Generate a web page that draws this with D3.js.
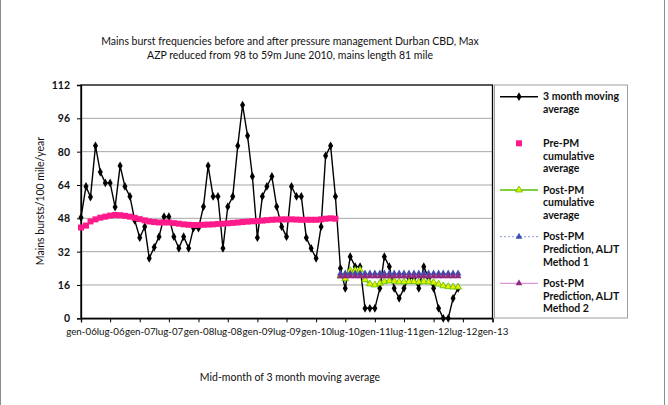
<!DOCTYPE html>
<html>
<head>
<meta charset="utf-8">
<script src="https://cdn.jsdelivr.net/npm/d3@7/dist/d3.min.js"></script>
<style>
  html, body { margin: 0; padding: 0; background: #fff; }
  svg { display: block; }
  text { font-family: Lato, "Open Sans", sans-serif; fill: #111; }
</style>
</head>
<body>
<svg id="chart" width="668" height="405"></svg>
<script>
// ---------- data ----------
const seriesStart = "2006-01";          // first month of the moving-average series
const postStart = "2010-06";            // first month after pressure management
const movingAvg = [48.4, 63.3, 58.2, 82.8, 70.2, 65.0, 65.0, 53.4, 73.2, 63.3, 58.5, 47.0,
  38.7, 44.0, 28.8, 34.1, 39.2, 48.8, 48.8, 39.2, 33.6, 39.2, 33.6, 43.3,
  43.3, 53.6, 73.2, 58.5, 58.5, 33.6, 53.6, 58.5, 82.8, 102.4, 87.6, 68.1,
  38.7, 58.5, 63.3, 68.1, 53.6, 44.0, 39.2, 63.3, 58.5, 58.5, 38.7, 33.6,
  28.8, 44.0, 78.0, 82.8, 58.5, 24.0, 14.4, 29.6, 24.8, 24.8, 4.8, 4.8,
  4.8, 14.4, 29.6, 24.8, 14.4, 9.6, 14.4, 19.2, 19.2, 14.4, 24.8, 19.2,
  14.4, 4.8, 0, 0, 9.6, 14.4];
const prePM = [43.6, 44.5, 46.5, 47.5, 48.3, 48.8, 49.3, 49.6, 49.5, 49.2, 48.8, 48.2,
  47.6, 47.0, 46.5, 46.2, 46.0, 46.0, 46.0, 45.7, 45.4, 45.1, 44.9, 44.8,
  44.8, 44.9, 45.0, 45.1, 45.3, 45.4, 45.6, 45.8, 46.0, 46.2, 46.4, 46.6,
  46.7, 46.9, 47.1, 47.3, 47.4, 47.5, 47.5, 47.5, 47.4, 47.3, 47.3, 47.3,
  47.3, 47.5, 47.8, 48.0, 47.8];
const postPM = [20.3, 19.0, 22.9, 23.0, 23.2, 18.5, 16.5, 16.0, 16.8, 17.6, 18.0, 17.8,
  17.5, 17.5, 17.6, 17.6, 17.4, 17.6, 17.5, 17.2, 16.4, 15.6, 15.2, 15.0, 15.0];
const method1 = [21.5, 21.5, 21.5, 21.5, 21.5, 21.5, 21.5, 21.5, 21.5, 21.5, 21.5, 21.5,
  21.5, 21.5, 21.5, 21.5, 21.5, 21.5, 21.5, 21.5, 21.5, 21.5, 21.5, 21.5, 21.5];
const method2 = [20.2, 20.2, 20.2, 20.2, 20.2, 20.2, 20.2, 20.2, 20.2, 20.2, 20.2, 20.2,
  20.2, 20.2, 20.2, 20.2, 20.2, 20.2, 20.2, 20.2, 20.2, 20.2, 20.2, 20.2, 20.2];
const yTicks = [0, 16, 32, 48, 64, 80, 96, 112];
const monthNames = ["gen", "feb", "mar", "apr", "mag", "giu", "lug", "ago", "set", "ott", "nov", "dic"];
const xTickRange = ["2006-01", "2013-01"];
const titleLines = ["Mains burst frequencies before and after pressure management Durban CBD, Max",
  "AZP reduced from 98 to 59m June 2010, mains length 81 mile"];
const yTitle = "Mains bursts/100 mile/year";
const xTitle = "Mid-month of 3 month moving average";
const legendItems = [
  {key: "ma", lines: ["3 month moving", "average"]},
  {key: "pre", lines: ["Pre-PM", "cumulative", "average"]},
  {key: "post", lines: ["Post-PM", "cumulative", "average"]},
  {key: "m1", lines: ["Post-PM", "Prediction, ALJT", "Method 1"]},
  {key: "m2", lines: ["Post-PM", "Prediction, ALJT", "Method 2"]}
];

// ---------- helpers ----------
const parseM = d3.timeParse("%Y-%m");
const toSeries = (start, vals) => vals.map((v, i) => ({date: d3.timeMonth.offset(parseM(start), i), v}));
const sMA = toSeries(seriesStart, movingAvg);
const sPre = toSeries(seriesStart, prePM);
const sPost = toSeries(postStart, postPM);
const sM1 = toSeries(postStart, method1);
const sM2 = toSeries(postStart, method2);

const svg = d3.select("#chart");

// outer frame
svg.append("rect").attr("x", 0.5).attr("y", -2).attr("width", 664).attr("height", 420)
  .attr("fill", "none").attr("stroke", "#8c8c8c").attr("stroke-width", 1);

const L = 81, R = 492.5, T = 85, B = 318.3;
const x = d3.scaleTime().domain(xTickRange.map(parseM)).range([L, R]);
const y = d3.scaleLinear().domain([0, 112]).range([B, T]);

// gridlines
svg.append("g").selectAll("line").data(yTicks.filter(d => d > 0 && d < 112)).join("line")
  .attr("x1", L).attr("x2", R).attr("y1", d => y(d)).attr("y2", d => y(d))
  .attr("stroke", "#a6a6a6").attr("stroke-width", 1);

// plot border
svg.append("rect").attr("x", L).attr("y", T).attr("width", R - L).attr("height", B - T)
  .attr("fill", "none").attr("stroke", "#000").attr("stroke-width", 1.3);

// axes
const xTickVals = d3.timeMonth.every(6).range(parseM(xTickRange[0]), d3.timeMonth.offset(parseM(xTickRange[1]), 1));
const xAxis = d3.axisBottom(x).tickValues(xTickVals).tickSize(4).tickPadding(6)
  .tickFormat(d => monthNames[d.getMonth()] + "-" + d3.timeFormat("%y")(d));
const gx = svg.append("g").attr("transform", `translate(0,${B})`).call(xAxis);
gx.select(".domain").attr("stroke", "#000").attr("stroke-width", 1.3);
gx.selectAll(".tick line").attr("stroke", "#000");
gx.selectAll(".tick text").attr("font-size", 9.8).attr("font-family", "Lato, sans-serif").attr("fill", "#111");

const yAxis = d3.axisLeft(y).tickValues(yTicks).tickSize(4).tickPadding(7);
const gy = svg.append("g").attr("transform", `translate(${L},0)`).call(yAxis);
gy.select(".domain").attr("stroke", "#000").attr("stroke-width", 1.3);
gy.selectAll(".tick line").attr("stroke", "#000");
gy.selectAll(".tick text").attr("font-size", 10.5).attr("font-weight", "bold").attr("font-family", "Lato, sans-serif").attr("fill", "#111");

// titles
svg.append("g").selectAll("text").data(titleLines).join("text")
  .attr("x", 290).attr("y", (d, i) => 45 + i * 14).attr("text-anchor", "middle")
  .attr("font-size", 10.5).text(d => d);
svg.append("text").attr("transform", "translate(44,201) rotate(-90)").attr("text-anchor", "middle")
  .attr("font-size", 10.5).text(yTitle);
svg.append("text").attr("x", 290).attr("y", 381).attr("text-anchor", "middle")
  .attr("font-size", 10.5).text(xTitle);

// series
const line = d3.line().x(d => x(d.date)).y(d => y(d.v));
const diamond = d3.symbol().type(d3.symbolDiamond).size(22);
const tri = d3.symbol().type(d3.symbolTriangle).size(20);

// black moving average
svg.append("path").datum(sMA).attr("d", line).attr("fill", "none").attr("stroke", "#000").attr("stroke-width", 1.4);
svg.append("g").selectAll("path").data(sMA).join("path").attr("d", diamond)
  .attr("transform", d => `translate(${x(d.date)},${y(d.v)})`).attr("fill", "#000");

// pink pre-PM squares
const pink = "#ff1a8c";
svg.append("g").selectAll("rect").data(sPre).join("rect")
  .attr("x", d => x(d.date) - 3).attr("y", d => y(d.v) - 3).attr("width", 6).attr("height", 6).attr("fill", pink);

// green post-PM
svg.append("path").datum(sPost).attr("d", line).attr("fill", "none").attr("stroke", "#55c000").attr("stroke-width", 1.6);
svg.append("g").selectAll("path").data(sPost).join("path").attr("d", tri)
  .attr("transform", d => `translate(${x(d.date)},${y(d.v)})`).attr("fill", "#e8f000").attr("stroke", "#55c000").attr("stroke-width", 0.8);

// method 1 (blue dashed)
svg.append("path").datum(sM1).attr("d", line).attr("fill", "none").attr("stroke", "#8c9be0").attr("stroke-width", 1).attr("stroke-dasharray", "2,2");
svg.append("g").selectAll("path").data(sM1).join("path").attr("d", tri)
  .attr("transform", d => `translate(${x(d.date)},${y(d.v)})`).attr("fill", "#3b4fb0");

// method 2 (purple)
svg.append("path").datum(sM2).attr("d", line).attr("fill", "none").attr("stroke", "#d47ac8").attr("stroke-width", 1);
svg.append("g").selectAll("path").data(sM2).join("path").attr("d", tri)
  .attr("transform", d => `translate(${x(d.date)},${y(d.v)})`).attr("fill", "#8e2a80");

// legend
const lg = svg.append("g");
lg.append("rect").attr("x", 494.5).attr("y", 85).attr("width", 133).attr("height", 233)
  .attr("fill", "#fff").attr("stroke", "#a0a0a0").attr("stroke-width", 1);
const legendY = [96.7, 143.3, 190, 236.7, 283.3];
legendItems.forEach((it, i) => {
  const cy = legendY[i];
  const g = lg.append("g");
  if (it.key === "ma") {
    g.append("line").attr("x1", 500).attr("x2", 538).attr("y1", cy).attr("y2", cy).attr("stroke", "#000").attr("stroke-width", 1.4);
    g.append("path").attr("d", diamond).attr("transform", `translate(519,${cy})`).attr("fill", "#000");
  } else if (it.key === "pre") {
    g.append("rect").attr("x", 516).attr("y", cy - 3).attr("width", 6).attr("height", 6).attr("fill", pink);
  } else if (it.key === "post") {
    g.append("line").attr("x1", 500).attr("x2", 538).attr("y1", cy).attr("y2", cy).attr("stroke", "#55c000").attr("stroke-width", 1.6);
    g.append("path").attr("d", tri).attr("transform", `translate(519,${cy})`).attr("fill", "#e8f000").attr("stroke", "#55c000").attr("stroke-width", 0.8);
  } else if (it.key === "m1") {
    g.append("line").attr("x1", 500).attr("x2", 538).attr("y1", cy).attr("y2", cy).attr("stroke", "#8c9be0").attr("stroke-dasharray", "2,2");
    g.append("path").attr("d", tri).attr("transform", `translate(519,${cy})`).attr("fill", "#3b4fb0");
  } else {
    g.append("line").attr("x1", 500).attr("x2", 538).attr("y1", cy).attr("y2", cy).attr("stroke", "#d47ac8");
    g.append("path").attr("d", tri).attr("transform", `translate(519,${cy})`).attr("fill", "#8e2a80");
  }
  g.selectAll("text").data(it.lines).join("text")
    .attr("x", 543).attr("y", (d, j) => cy + 3.7 + j * 12.6)
    .attr("font-size", 10.5).attr("font-weight", "bold").attr("fill", "#222").text(d => d);
});
</script>
</body>
</html>
